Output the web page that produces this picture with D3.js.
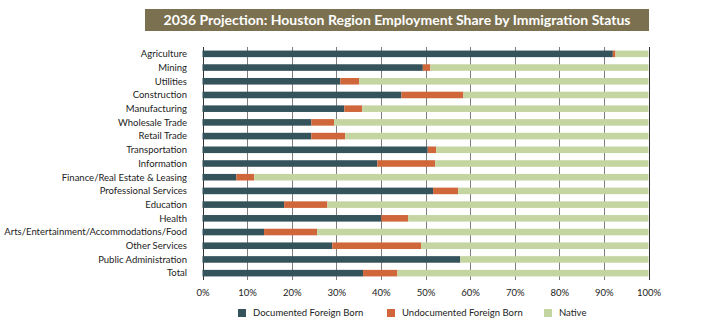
<!DOCTYPE html>
<html>
<head>
  <meta charset="utf-8">
  <title>2036 Projection: Houston Region Employment Share by Immigration Status</title>
  <style>
  body { margin: 0; background: #fff; }
  text { font-family: Lato, "Open Sans", sans-serif; fill: #222; }
  .grid line { stroke: #7d7d7d; stroke-width: 1; }
  </style>
</head>
<body>
  <div id="chart"></div>
  <script src="https://d3js.org/d3.v7.min.js"></script>
  <script type="text/javascript">
    var sectors = ["Agriculture", "Mining", "Utilities", "Construction", "Manufacturing",
      "Wholesale Trade", "Retail Trade", "Transportation", "Information",
      "Finance/Real Estate & Leasing", "Professional Services", "Education", "Health",
      "Arts/Entertainment/Accommodations/Food", "Other Services", "Public Administration", "Total"];

    // percent of employment in each sector
    var documented   = [92.0, 49.4, 30.9, 44.6, 31.8, 24.4, 24.4, 50.5, 39.2, 7.6, 51.7, 18.3, 40.1, 13.8, 29.1, 57.8, 36.0];
    var undocumented = [0.6, 1.7, 4.2, 13.9, 4.0, 5.1, 7.6, 1.9, 13.0, 4.0, 5.6, 9.7, 6.0, 11.9, 19.9, 0.0, 7.7];
    var native       = [7.4, 48.9, 64.9, 41.5, 64.2, 70.5, 68.0, 47.6, 47.8, 88.4, 42.7, 72.0, 53.9, 74.3, 51.0, 42.2, 56.3];

    var seriesNames = ["Documented Foreign Born", "Undocumented Foreign Born", "Native"];
    var seriesColors = ["#34535b", "#cf673b", "#c5d5a2"];
    var tickValues = [0, 10, 20, 30, 40, 50, 60, 70, 80, 90, 100];

    var width = 722, height = 325;
    var svg = d3.select("#chart").append("svg")
        .attr("width", width)
        .attr("height", height);

    // title banner
    svg.append("rect")
        .attr("x", 145).attr("y", 9)
        .attr("width", 504).attr("height", 22)
        .attr("fill", "#7b7150");
    svg.append("text")
        .attr("x", 397).attr("y", 25)
        .attr("text-anchor", "middle")
        .attr("font-size", 14)
        .attr("font-weight", "bold")
        .style("fill", "#fff")
        .text("2036 Projection:  Houston Region Employment Share by Immigration Status");

    var x = d3.scaleLinear().domain([0, 100]).range([202.5, 648.5]);
    var y = d3.scaleBand().domain(sectors).range([47, 280]).paddingInner(0.52).paddingOuter(0.26);

    var rows = sectors.map(function(s, i) {
      return { sector: s, values: [documented[i], undocumented[i], native[i]] };
    });

    // grid lines behind the bars
    svg.append("g")
        .attr("class", "grid")
      .selectAll("line")
      .data(tickValues)
      .enter().append("line")
        .attr("x1", function(d) { return Math.round(x(d)) + 0.5; })
        .attr("x2", function(d) { return Math.round(x(d)) + 0.5; })
        .attr("y1", 47)
        .attr("y2", 280)
        .style("stroke", function(d) { return (d === 0 || d === 100) ? "#333" : null; });

    var row = svg.append("g").selectAll("g")
      .data(rows)
      .enter().append("g");

    row.selectAll("rect")
      .data(function(d) {
        var acc = 0;
        return d.values.map(function(v, k) {
          var seg = { sector: d.sector, x0: acc, x1: acc + v, k: k };
          acc += v;
          return seg;
        });
      })
      .enter().append("rect")
        .attr("x", function(d) { return x(d.x0); })
        .attr("width", function(d) { return Math.max(0, x(d.x1) - x(d.x0)); })
        .attr("y", function(d) { return y(d.sector); })
        .attr("height", y.bandwidth())
        .attr("fill", function(d) { return seriesColors[d.k]; });

    // category labels
    svg.append("g").selectAll("text")
      .data(sectors)
      .enter().append("text")
        .attr("x", 187)
        .attr("y", function(d) { return y(d) + y.bandwidth() / 2; })
        .attr("dy", "0.35em")
        .attr("text-anchor", "end")
        .attr("font-size", 9.5)
        .text(function(d) { return d; });

    // percent axis
    var axis = svg.append("g")
        .attr("transform", "translate(0,280)")
        .call(d3.axisBottom(x)
          .tickValues(tickValues)
          .tickSize(0)
          .tickPadding(9)
          .tickFormat(function(d) { return d + "%"; }));
    axis.select(".domain").remove();
    axis.selectAll("text")
        .attr("font-family", "Lato, 'Open Sans', sans-serif")
        .attr("font-size", 9.5)
        .style("fill", "#222");

    // legend
    var legendX = [238, 387, 544];
    var legend = svg.append("g").selectAll("g")
      .data(seriesNames)
      .enter().append("g")
        .attr("transform", function(d, i) { return "translate(" + legendX[i] + ",309)"; });
    legend.append("rect")
        .attr("width", 8).attr("height", 8)
        .attr("fill", function(d, i) { return seriesColors[i]; });
    legend.append("text")
        .attr("x", 15).attr("y", 4)
        .attr("dy", "0.35em")
        .attr("font-size", 9.5)
        .text(function(d) { return d; });
  </script>
</body>
</html>
